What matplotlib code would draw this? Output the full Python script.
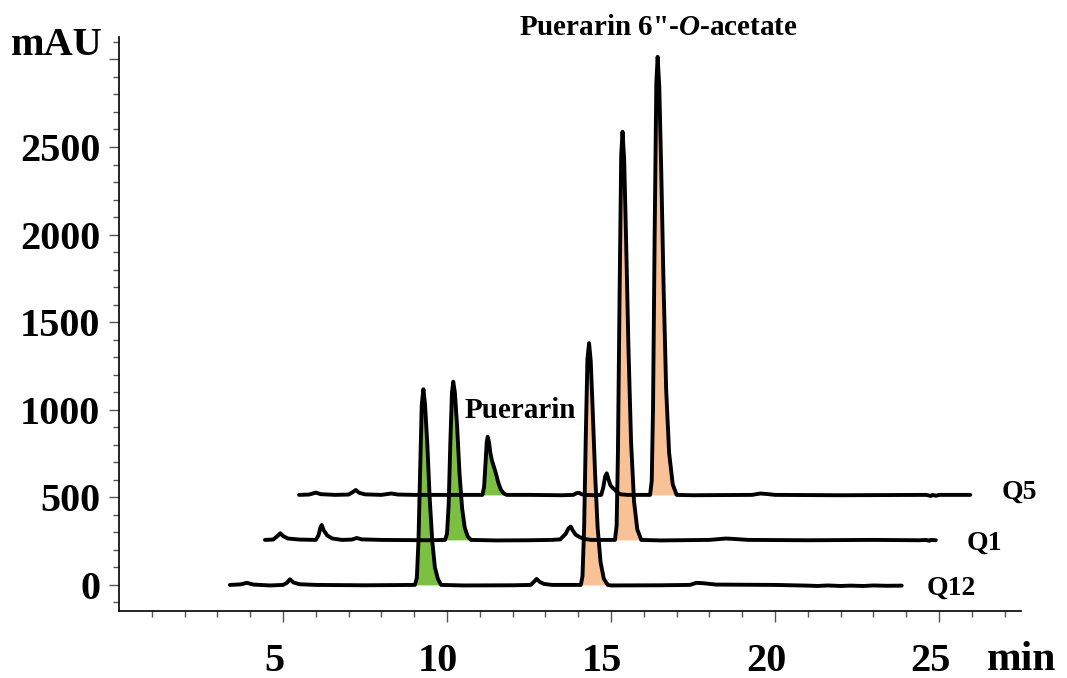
import numpy as np
import matplotlib
matplotlib.use('Agg')
import matplotlib.pyplot as plt
from matplotlib.transforms import ScaledTranslation, blended_transform_factory

# chromatograms: (time on axis [min], signal above own baseline [mAU])
q12 = [(3.38, 0), (3.7, 3), (3.9, 12), (4.1, 2), (4.6, -3), (5.0, 0), (5.12, 12), (5.21, 32),
       (5.32, 14), (5.5, 4), (6.0, 0), (7.5, -2),
       (9.02, 0), (9.08, 40), (9.13, 250), (9.18, 650), (9.23, 1030), (9.28, 1117), (9.33, 1030),
       (9.40, 800), (9.47, 500), (9.55, 250), (9.63, 100), (9.72, 35), (9.82, 0),
       (10.5, -3), (12.0, -2), (12.55, 0), (12.65, 18), (12.73, 34), (12.82, 18), (12.95, 6), (13.2, 0),
       (14.08, 0), (14.13, 50), (14.18, 330), (14.23, 850), (14.28, 1290), (14.33, 1380), (14.38, 1280),
       (14.44, 1000), (14.51, 650), (14.59, 330), (14.68, 130), (14.78, 35), (14.90, 0),
       (15.0, -3), (16.5, -2), (17.4, 0), (17.6, 12), (17.8, 10), (18.2, 2), (20.0, 0),
       (21.0, -4), (21.3, -6), (21.6, -3), (22.0, -6), (22.3, -4), (22.7, -6), (23.0, -3),
       (23.4, -5), (23.86, -4)]

q1 = [(4.45, 0), (4.7, 2), (4.85, 25), (4.92, 38), (5.0, 22), (5.15, 8), (5.5, 2), (6.0, 0),
      (6.08, 25), (6.14, 70), (6.18, 85), (6.24, 55), (6.35, 25), (6.5, 8), (6.8, 0), (7.1, 2),
      (7.25, 11), (7.4, 3), (8.0, 0), (9.5, -2),
      (9.94, 0), (10.00, 35), (10.05, 200), (10.10, 550), (10.15, 840), (10.19, 903), (10.24, 840),
      (10.31, 640), (10.38, 380), (10.46, 180), (10.54, 70), (10.63, 20), (10.73, 0),
      (11.5, -3), (12.5, -2), (13.2, 0), (13.45, 3), (13.62, 35), (13.70, 65), (13.77, 76),
      (13.83, 55), (13.92, 30), (14.05, 15), (14.2, 5), (14.4, 0),
      (15.12, 0), (15.17, 80), (15.21, 500), (15.26, 1400), (15.31, 2200), (15.35, 2330), (15.40, 2170),
      (15.46, 1700), (15.53, 1100), (15.61, 560), (15.70, 220), (15.80, 60), (15.92, 0),
      (16.5, -3), (18.0, 0), (18.5, 8), (18.7, 6), (19.2, 0), (21.0, -2), (23.0, 0),
      (24.4, -2), (24.6, 0), (24.7, -5), (24.75, 0), (24.9, -2)]

q5 = [(5.49, 0), (5.8, 2), (6.0, 13), (6.15, 4), (6.6, 0), (7.0, 2), (7.12, 15), (7.22, 28),
      (7.32, 12), (7.5, 3), (8.0, 0), (8.3, 8), (8.5, 2), (9.0, 0), (10.5, 0),
      (11.08, 0), (11.13, 45), (11.17, 170), (11.21, 300), (11.24, 332), (11.28, 300), (11.32, 240),
      (11.37, 195), (11.43, 160), (11.49, 122), (11.56, 72), (11.64, 30), (11.73, 8), (11.82, 0),
      (12.5, 0), (13.5, -2), (13.85, 0), (13.95, 10), (14.02, 12), (14.1, 4), (14.2, 0), (14.5, -2),
      (14.7, 0), (14.76, 40), (14.82, 105), (14.87, 123), (14.92, 90), (14.98, 55), (15.05, 40),
      (15.12, 28), (15.2, 12), (15.3, 3), (15.5, 0), (16.1, 0),
      (16.19, 0), (16.24, 80), (16.28, 500), (16.33, 1500), (16.38, 2350), (16.42, 2501), (16.47, 2330),
      (16.53, 1850), (16.60, 1200), (16.68, 600), (16.77, 240), (16.88, 60), (17.00, 0),
      (17.5, -2), (19.3, 0), (19.55, 8), (19.75, 5), (20.0, 0), (22.0, -2), (24.6, 0),
      (24.75, -6), (24.8, 0), (24.9, -5), (25.0, 0), (25.95, 0)]

names = ['Q12', 'Q1', 'Q5']
baselines = [0, 257, 514]
puerarin_win = [(9.02, 9.82), (9.94, 10.73), (11.08, 11.82)]
acetate_win = [(14.08, 14.90), (15.12, 15.92), (16.19, 17.00)]

GREEN = '#7bc043'
ORANGE = '#f9c196'

plt.rcParams['font.family'] = ['Liberation Serif', 'DejaVu Serif']
plt.rcParams['font.weight'] = 'bold'
plt.rcParams['mathtext.fontset'] = 'custom'
plt.rcParams['mathtext.rm'] = 'Liberation Serif:bold'
plt.rcParams['mathtext.it'] = 'Liberation Serif:italic:bold'
plt.rcParams['mathtext.bf'] = 'Liberation Serif:bold'

fig = plt.figure(figsize=(10.67, 6.78), dpi=100)
ax = fig.add_axes([0.1115, 0.0993, 0.8455, 0.8464])

curves = []
for data, base, gw, ow in zip([q12, q1, q5], baselines, puerarin_win, acetate_win):
    t, y = np.array(data, dtype=float).T
    s = base + y
    ax.fill_between(t, base, s, where=(t >= gw[0]) & (t <= gw[1]), color=GREEN, lw=0, zorder=1)
    ax.fill_between(t, base, s, where=(t >= ow[0]) & (t <= ow[1]), color=ORANGE, lw=0, zorder=1)
    curves.append((t, s))

for t, s in curves:
    ax.plot(t, s, color='black', lw=2.8, solid_joinstyle='round', solid_capstyle='round', zorder=3)

# trace names
label_pos = [(24.63, -57), (25.85, 200), (26.92, 491)]
for name, (lx, ly) in zip(names, label_pos):
    ax.text(lx, ly, name, fontsize=20, ha='left', va='baseline')

ax.text(12.23, 951, 'Puerarin', fontsize=21, ha='center', va='baseline')
ax.text(16.45, 3139, 'Puerarin 6"-$\\mathit{O}$-acetate', fontsize=21, ha='center', va='baseline')

ax.set_xlim(0, 27.5)
ax.set_ylim(-147, 3129)
for side in ['top', 'right']:
    ax.spines[side].set_visible(False)
for side in ['left', 'bottom']:
    ax.spines[side].set_linewidth(1.2)

ax.set_xticks([5, 10, 15, 20, 25])
ax.set_xticks(np.arange(1, 28), minor=True)
ax.set_yticks(range(0, 3001, 500))
ax.set_yticklabels(['0', '500', '1000', '1500', '2000', '2500', ''])
ax.set_yticks(range(-100, 3101, 100), minor=True)

ax.tick_params(axis='x', which='major', length=8, width=1, color='#555555', pad=15, labelsize=29)
ax.tick_params(axis='x', which='minor', length=4.5, width=1, color='#555555')
ax.tick_params(axis='y', which='major', length=7, width=1, color='#555555', pad=6.5, labelsize=29)
ax.tick_params(axis='y', which='minor', length=4, width=1, color='#555555')

shift = ScaledTranslation(-0.09, 0, fig.dpi_scale_trans)
for lab in ax.get_xticklabels():
    lab.set_transform(lab.get_transform() + shift)

tr = blended_transform_factory(ax.transAxes, ax.transData)
ax.text(-0.0177, 3080, 'mAU', transform=tr, fontsize=29, ha='right', va='center')
fig.text(1022 / 1067, 1 - 670 / 678, 'min', fontsize=30, ha='center', va='baseline')

fig.savefig('out.png', dpi=100)
